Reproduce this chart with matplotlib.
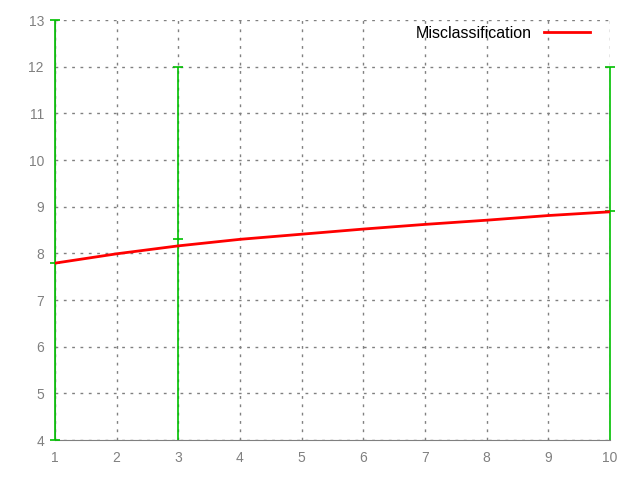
import matplotlib
matplotlib.use('Agg')
from matplotlib import pyplot as plt
from matplotlib.transforms import Bbox, TransformedBbox

plt.rcParams['font.family'] = ['Liberation Sans', 'DejaVu Sans']

# red curve, read at each integer x
x_line = [1, 2, 3, 4, 5, 6, 7, 8, 9, 10]
y_line = [7.79, 7.99, 8.16, 8.30, 8.41, 8.52, 8.62, 8.71, 8.81, 8.89]

# green points with error bars
x_pts = [1, 3, 10]
y_pts = [7.8, 8.3, 8.9]
y_low = [4.0, 3.0, 3.0]
y_high = [13.0, 12.0, 12.0]

xticks = list(range(1, 11))
yticks = list(range(4, 14))

fig = plt.figure(figsize=(6.4, 4.8), dpi=100)
ax = fig.add_axes([55/640, 40/480, 555/640, 420/480])

err = [[c - l for c, l in zip(y_pts, y_low)], [h - c for c, h in zip(y_pts, y_high)]]
eb = ax.errorbar(x_pts, y_pts, yerr=err, fmt='_', color='#00c000', ms=7, mew=1.2,
                 elinewidth=1.2, capsize=3.5, capthick=1.2, zorder=3)
# let the bars at x=1 and x=10 show fully, still cut at the bottom/top
clip = TransformedBbox(Bbox([[-0.02, 0.0], [1.02, 1.005]]), ax.transAxes)
for a in eb.get_children():
    a.set_clip_box(clip)

ax.plot(x_line, y_line, color='#ff0000', lw=2.0, label='Misclassification', zorder=4)

ax.set_xlim(1, 10)
ax.set_ylim(4, 13)
ax.set_xticks(xticks)
ax.set_yticks(yticks)
ax.grid(True, color='#808080', linestyle=(0, (2, 4)), lw=1)
ax.tick_params(length=0, colors='#808080', labelsize=10, pad=8)
for s in ['top', 'right']:
    ax.spines[s].set_visible(False)
for s in ['left', 'bottom']:
    ax.spines[s].set_color('#808080')
    ax.spines[s].set_zorder(2.5)

leg = ax.legend(loc='upper right', frameon=False, markerfirst=False, fontsize=11.5,
                handlelength=2.9, handletextpad=0.75, borderpad=0, borderaxespad=0,
                bbox_to_anchor=(590/640, 454/480), bbox_transform=fig.transFigure)

fig.savefig('out.png')
